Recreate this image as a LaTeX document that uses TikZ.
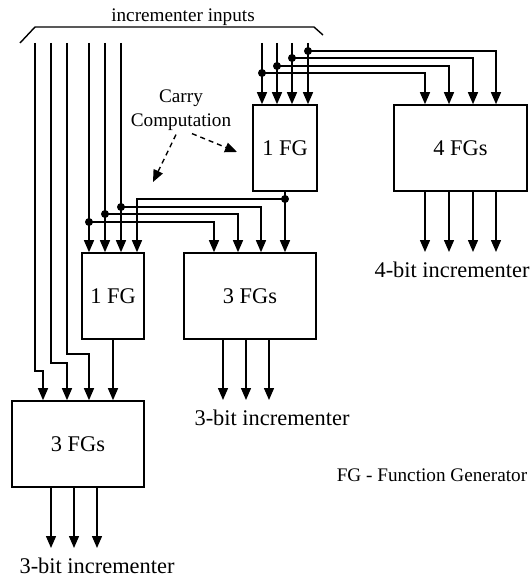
\documentclass[tikz,border=0pt]{standalone}
\usepackage{fontspec}
\setmainfont{Liberation Serif}
\usetikzlibrary{arrows.meta,calc}

\begin{document}
\begin{tikzpicture}[x=1pt,y=-1pt,
    wire/.style={line width=1.4pt},
    feed/.style={wire,-{Triangle[length=12pt,width=10pt]}},
    pointer/.style={wire,dash pattern=on 5pt off 4pt,-{Triangle[length=12pt,width=10pt]}},
    fgbox/.style={draw,line width=1.6pt,minimum height=86pt,inner sep=0pt,font=\fontsize{22.4}{26}\selectfont},
    lbl/.style={inner sep=0pt,font=\fontsize{22.4}{26}\selectfont},
    note/.style={inner sep=0pt,font=\fontsize{19.2}{24}\selectfont}]
    \useasboundingbox (0,0) rectangle (532,578);
    \pgfmathsetmacro{\top}{43}
    \node[fgbox, minimum width=64pt] (fgTop) at (285,148) {1 FG};
    \node[fgbox, minimum width=133pt] (fgsFour) at (460.5,148) {4 FGs};
    \node[fgbox, minimum width=62pt] (fgLow) at (113,296) {1 FG};
    \node[fgbox, minimum width=132pt] (fgsMid) at (250,296) {3 FGs};
    \node[fgbox, minimum width=132pt] (fgsBot) at (78,444) {3 FGs};
    \foreach \n/\x in {1/35,2/51,3/67,4/89,5/105,6/121,7/262,8/277,9/292,10/308}
        \coordinate (in\n) at (\x,\top);
    \draw[wire] (20,\top) -- (35,27) -- (314,27) -- (323,35);
    \node[note, anchor=base] (inputs) at (183,22) {incrementer inputs};
    \draw[feed] (in1) |- (43,371) -- (43,0 |- fgsBot.north);
    \draw[feed] (in2) |- (67,363) -- (67,0 |- fgsBot.north);
    \draw[feed] (in3) |- (89,354) -- (89,0 |- fgsBot.north);
    \draw[feed] (fgLow.south) -- (fgLow.south |- fgsBot.north);
    \foreach \n/\y/\x in {4/222/214, 5/214/238, 6/207/261} {
        \draw[feed] (in\n) -- (in\n |- fgLow.north);
        \coordinate (tap\n) at (in\n |- 0,\y);
        \draw[feed] (tap\n) -| (\x,0 |- fgsMid.north);
        \fill (tap\n) circle (4pt);
    }
    \coordinate (tapOut) at (fgTop.south |- 0,199);
    \draw[feed] (fgTop.south) -- (fgTop.south |- fgsMid.north);
    \draw[feed] (tapOut) -| (137,0 |- fgLow.north);
    \fill (tapOut) circle (4pt);
    \foreach \n/\y/\x in {7/73/425, 8/66/449, 9/58/473, 10/51/496} {
        \draw[feed] (in\n) -- (in\n |- fgTop.north);
        \coordinate (tap\n) at (in\n |- 0,\y);
        \draw[feed] (tap\n) -| (\x,0 |- fgsFour.north);
        \fill (tap\n) circle (4pt);
    }
    \foreach \x in {425,449,473,496}
        \draw[feed] (\x,0 |- fgsFour.south) -- (\x,252);
    \foreach \x in {223,246,269}
        \draw[feed] (\x,0 |- fgsMid.south) -- (\x,400);
    \foreach \x in {51,74,97}
        \draw[feed] (\x,0 |- fgsBot.south) -- (\x,548);
    \node[lbl, anchor=base] (outFour) at (452,277) {4-bit incrementer};
    \node[lbl, anchor=base] (outMid) at (272,425) {3-bit incrementer};
    \node[lbl, anchor=base] (outBot) at (97,573) {3-bit incrementer};
    \node[note] (legend) at (432,475) {FG - Function Generator};
    \node[note, align=center] (carry) at (181,110) {Carry\\Computation};
    \coordinate (toTop) at (237,152);
    \coordinate (toLow) at (153,182);
    \draw[pointer] ($(carry.south)+(11,3)$) -- (toTop);
    \draw[pointer] ($(carry.south)+(-5,4)$) -- (toLow);
\end{tikzpicture}
\end{document}
